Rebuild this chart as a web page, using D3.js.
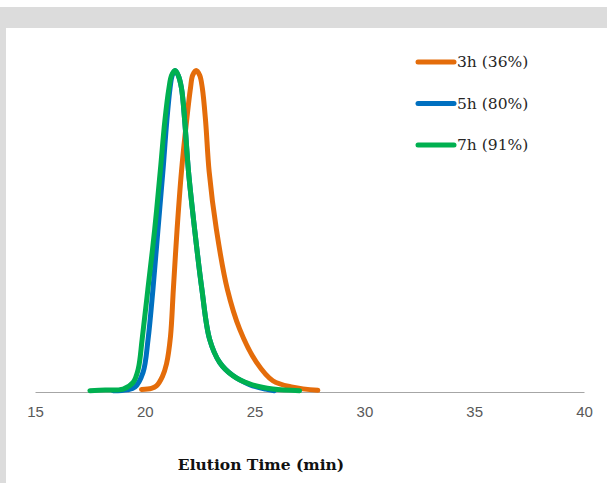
<!DOCTYPE html>
<html>
<head>
<meta charset="utf-8">
<script src="https://cdn.jsdelivr.net/npm/d3@7"></script>
<style>
  body { margin: 0; background: #fff; }
  svg { display: block; }
</style>
</head>
<body>
<svg id="chart" width="607" height="483"></svg>
<script>
// x ticks
var xTicks = [15, 20, 25, 30, 35, 40];

// series: elution time (min) and normalized detector response
var time3h = [19.85, 20.3, 20.53, 20.8, 20.99, 21.17, 21.3, 21.47, 21.67, 21.9, 22.08, 22.18, 22.34, 22.5, 22.62, 22.77, 22.93, 23.26, 23.76, 24.32, 25.08, 25.83, 26.74, 27.88];
var resp3h = [0.005, 0.008, 0.016, 0.045, 0.085, 0.17, 0.317, 0.504, 0.685, 0.841, 0.945, 0.985, 1.0, 0.985, 0.945, 0.841, 0.685, 0.504, 0.317, 0.193, 0.09, 0.032, 0.012, 0.002];

var time5h = [18.56, 19.2, 19.55, 19.92, 20.15, 20.37, 20.6, 20.83, 21.0, 21.15, 21.25, 21.38, 21.52, 21.67, 21.82, 21.99, 22.27, 22.6, 22.95, 23.41, 24.01, 24.77, 25.5, 25.9];
var resp5h = [0.001, 0.004, 0.012, 0.058, 0.162, 0.317, 0.504, 0.69, 0.841, 0.945, 0.985, 1.0, 0.985, 0.945, 0.841, 0.685, 0.504, 0.317, 0.162, 0.089, 0.048, 0.02, 0.006, 0.001];

var time7h = [17.5, 18.2, 19.01, 19.47, 19.7, 19.88, 20.14, 20.45, 20.71, 20.91, 21.1, 21.22, 21.38, 21.52, 21.67, 21.82, 21.99, 22.27, 22.6, 22.95, 23.41, 24.01, 24.77, 25.83, 27.05];
var resp7h = [0.001, 0.003, 0.006, 0.027, 0.068, 0.162, 0.317, 0.504, 0.69, 0.841, 0.945, 0.985, 1.0, 0.985, 0.945, 0.841, 0.685, 0.504, 0.317, 0.162, 0.089, 0.048, 0.022, 0.006, 0.001];

var labels = ["3h (36%)", "5h (80%)", "7h (91%)"];
var colors = ["#E46C0A", "#0070C0", "#00B050"];

var series = [
    { name: labels[0], color: colors[0], t: time3h, v: resp3h },
    { name: labels[1], color: colors[1], t: time5h, v: resp5h },
    { name: labels[2], color: colors[2], t: time7h, v: resp7h }
];

var svg = d3.select("#chart");

// frame: grey band on top and a thin strip on the left
svg.append("rect").attr("x", 0).attr("y", 7).attr("width", 607).attr("height", 21).attr("fill", "#dcdcdc");
svg.append("rect").attr("x", 0).attr("y", 28).attr("width", 6).attr("height", 455).attr("fill", "#dcdcdc");

var x = d3.scaleLinear().domain([15, 40]).range([35, 584]);
var y = d3.scaleLinear().domain([0, 1]).range([391, 70.5]);

// baseline axis
var xAxis = svg.append("g")
    .attr("transform", "translate(0,392)")
    .call(d3.axisBottom(x).tickValues(xTicks).tickSize(0).tickPadding(14));
xAxis.select(".domain").attr("stroke", "#a6a6a6").attr("stroke-width", 1);
xAxis.selectAll("text")
    .attr("fill", "#595959")
    .attr("font-family", "'Liberation Sans', Arial, sans-serif")
    .attr("font-size", 15);

var line = d3.line()
    .x(function (d) { return x(d[0]); })
    .y(function (d) { return y(d[1]); })
    .curve(d3.curveCatmullRom.alpha(0.5));

svg.append("g")
    .selectAll("path")
    .data(series)
    .enter().append("path")
    .attr("d", function (s) { return line(s.t.map(function (t, i) { return [t, s.v[i]]; })); })
    .attr("fill", "none")
    .attr("stroke", function (s) { return s.color; })
    .attr("stroke-width", 5)
    .attr("stroke-linecap", "round")
    .attr("stroke-linejoin", "round");

// legend
var legend = svg.append("g")
    .selectAll("g")
    .data(series)
    .enter().append("g")
    .attr("transform", function (d, i) { return "translate(416," + (62 + i * 41.5) + ")"; });

legend.append("line")
    .attr("x1", 2).attr("x2", 38)
    .attr("stroke", function (d) { return d.color; })
    .attr("stroke-width", 5)
    .attr("stroke-linecap", "round");

legend.append("text")
    .attr("x", 41)
    .attr("dy", "0.35em")
    .attr("font-family", "'DejaVu Serif', 'Liberation Serif', serif")
    .attr("font-size", 15.5)
    .attr("fill", "#262626")
    .text(function (d) { return d.name; });

// axis title
svg.append("text")
    .attr("x", 261)
    .attr("y", 470)
    .attr("text-anchor", "middle")
    .attr("font-family", "'DejaVu Serif', 'Liberation Serif', serif")
    .attr("font-weight", "bold")
    .attr("font-size", 15.5)
    .attr("fill", "#111")
    .text("Elution Time (min)");
</script>
</body>
</html>
